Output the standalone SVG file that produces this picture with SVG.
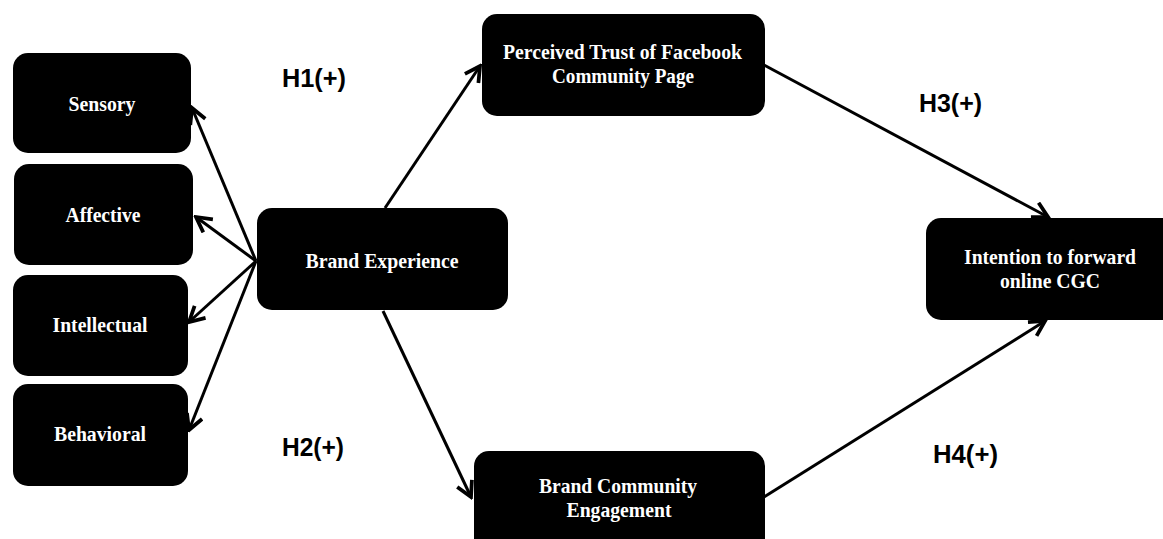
<svg xmlns="http://www.w3.org/2000/svg" width="1163" height="539" viewBox="0 0 1163 539">
<style>
.box{fill:#000;}
.t{font-family:"Liberation Serif","Times New Roman",serif;font-weight:bold;font-size:22px;fill:#fff;text-anchor:middle;}
.h{font-family:"Liberation Sans",Arial,sans-serif;font-weight:bold;font-size:26px;fill:#000;}
.c{stroke:#000;stroke-width:3;fill:none;marker-end:url(#ah);}
</style>
<defs>
<marker id="ah" markerUnits="userSpaceOnUse" markerWidth="20" markerHeight="20" viewBox="-14 -8 16 16" refX="0" refY="0" orient="auto">
<path d="M-12,-6.5 L0,0 L-12,6.5" fill="none" stroke="#000" stroke-width="3"/>
</marker>
</defs>
<rect width="1163" height="539" fill="#fff"/>
<g id="connectors">
<line class="c" x1="256" y1="261" x2="192" y2="108"/>
<line class="c" x1="256" y1="261" x2="196" y2="217"/>
<line class="c" x1="256" y1="261" x2="189" y2="322"/>
<line class="c" x1="256" y1="261" x2="189" y2="430"/>
<line class="c" x1="385" y1="208" x2="480" y2="66"/>
<line class="c" x1="383" y1="311" x2="471" y2="497"/>
<line class="c" x1="764" y1="65" x2="1048" y2="217"/>
<line class="c" x1="764" y1="497" x2="1045" y2="321"/>
</g>
<g id="sensory"><rect class="box" x="13" y="53" width="178" height="100" rx="15"/><text class="t" x="102" y="111" textLength="67" lengthAdjust="spacingAndGlyphs">Sensory</text></g>
<g id="affective"><rect class="box" x="14" y="164" width="179" height="101" rx="15"/><text class="t" x="103" y="222" textLength="75" lengthAdjust="spacingAndGlyphs">Affective</text></g>
<g id="intellectual"><rect class="box" x="13" y="275" width="175" height="101" rx="15"/><text class="t" x="100" y="332" textLength="95" lengthAdjust="spacingAndGlyphs">Intellectual</text></g>
<g id="behavioral"><rect class="box" x="13" y="384" width="175" height="102" rx="15"/><text class="t" x="100" y="441" textLength="92" lengthAdjust="spacingAndGlyphs">Behavioral</text></g>
<g id="brand-experience"><rect class="box" x="257" y="208" width="251" height="102" rx="15"/><text class="t" x="382" y="268" textLength="153" lengthAdjust="spacingAndGlyphs">Brand Experience</text></g>
<g id="perceived-trust"><rect class="box" x="482" y="14" width="283" height="102" rx="15"/><text class="t" x="622.5" y="59" textLength="239" lengthAdjust="spacingAndGlyphs">Perceived Trust of Facebook</text><text class="t" x="623" y="83" textLength="142" lengthAdjust="spacingAndGlyphs">Community Page</text></g>
<g id="brand-community-engagement"><rect class="box" x="474" y="451" width="291" height="110" rx="15"/><text class="t" x="618" y="493" textLength="158" lengthAdjust="spacingAndGlyphs">Brand Community</text><text class="t" x="619" y="517" textLength="105" lengthAdjust="spacingAndGlyphs">Engagement</text></g>
<g id="intention"><rect class="box" x="926" y="218" width="260" height="102" rx="15"/><text class="t" x="1050" y="264" textLength="172" lengthAdjust="spacingAndGlyphs">Intention to forward</text><text class="t" x="1050" y="288" textLength="100" lengthAdjust="spacingAndGlyphs">online CGC</text></g>
<g id="labels">
<text class="h" x="282" y="87" textLength="64" lengthAdjust="spacingAndGlyphs">H1(+)</text>
<text class="h" x="282" y="456" textLength="62" lengthAdjust="spacingAndGlyphs">H2(+)</text>
<text class="h" x="919" y="112" textLength="63" lengthAdjust="spacingAndGlyphs">H3(+)</text>
<text class="h" x="933" y="463" textLength="65" lengthAdjust="spacingAndGlyphs">H4(+)</text>
</g>
</svg>
